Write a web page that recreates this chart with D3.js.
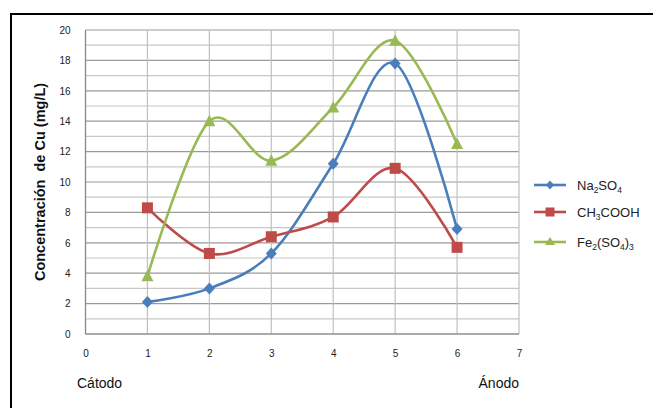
<!DOCTYPE html>
<html><head><meta charset="utf-8">
<script src="https://cdn.jsdelivr.net/npm/d3@7"></script>
<style>body{margin:0;background:#fff}svg{display:block;font-family:"Liberation Sans",Arial,sans-serif}</style>
</head><body><svg id="c" width="653" height="408"></svg>
<script>
const xValues = [1, 2, 3, 4, 5, 6];
const na2so4 = [2.1, 3.0, 5.3, 11.2, 17.8, 6.9];
const ch3cooh = [8.3, 5.3, 6.4, 7.7, 10.9, 5.7];
const fe2so43 = [3.8, 14.0, 11.4, 14.9, 19.3, 12.5];
const xTicks = [0, 1, 2, 3, 4, 5, 6, 7];
const yTicks = [0, 2, 4, 6, 8, 10, 12, 14, 16, 18, 20];
const seriesNames = ["Na2SO4", "CH3COOH", "Fe2(SO4)3"];
const colors = ["#4A7EBB", "#BE4B48", "#98B954"];

const svg = d3.select("#c");
svg.append("path").attr("d","M11,420 L11,14 L660,14").attr("fill","none").attr("stroke","#000").attr("stroke-width",2);

const L=85.5, R=519, T=30, B=334;
const x = d3.scaleLinear().domain([0,7]).range([L,R]);
const y = d3.scaleLinear().domain([0,20]).range([B,T]);

const g = svg.append("g");
d3.range(0,21).forEach(v=>{
  g.append("line").attr("x1",L).attr("x2",R).attr("y1",y(v)).attr("y2",y(v))
   .attr("stroke", v%2===0 ? "#9a9a9a" : "#c8c8c8").attr("stroke-width",1.2);
});
xTicks.forEach(v=>{
  g.append("line").attr("x1",x(v)).attr("x2",x(v)).attr("y1",T).attr("y2",B)
   .attr("stroke","#c0c0c0").attr("stroke-width",1.2);
});
g.append("line").attr("x1",L).attr("x2",L).attr("y1",T).attr("y2",B).attr("stroke","#888").attr("stroke-width",1.2);
g.append("line").attr("x1",L).attr("x2",R).attr("y1",B).attr("y2",B).attr("stroke","#888").attr("stroke-width",1.2);

const yAxis = d3.axisLeft(y).tickValues(yTicks).tickFormat(d3.format("d")).tickSize(0).tickPadding(15);
const ya = svg.append("g").attr("transform",`translate(${L},0)`).call(yAxis);
ya.select(".domain").remove();
ya.selectAll("text").attr("font-size",10).attr("fill","#222").attr("font-family","Liberation Sans, Arial");
const xAxis = d3.axisBottom(x).tickValues(xTicks).tickFormat(d3.format("d")).tickSize(0).tickPadding(16);
const xa = svg.append("g").attr("transform",`translate(0,${B})`).call(xAxis);
xa.select(".domain").remove();
xa.selectAll("text").attr("font-size",10).attr("fill","#222").attr("font-family","Liberation Sans, Arial");

svg.append("text").attr("x",77).attr("y",388).attr("font-size",14).attr("fill","#111").text("Cátodo");
svg.append("text").attr("x",519).attr("y",388).attr("text-anchor","end").attr("font-size",14).attr("fill","#111").text("Ánodo");
svg.append("text").attr("transform","translate(45,182) rotate(-90)").attr("text-anchor","middle")
  .attr("font-size",14.5).attr("font-weight","bold").attr("fill","#111").attr("xml:space","preserve")
  .text("Concentración  de Cu (mg/L)");

const allSeries = [na2so4, ch3cooh, fe2so43];
const line = d3.line().x((d,i)=>x(xValues[i])).y(d=>y(d)).curve(d3.curveCatmullRom.alpha(0));

function marker(sel, k, cx, cy){
  if(k===0){
    sel.append("path").attr("d",`M${cx},${cy-6}L${cx+5.5},${cy}L${cx},${cy+6}L${cx-5.5},${cy}Z`).attr("fill",colors[k]);
  } else if(k===1){
    sel.append("rect").attr("x",cx-5.5).attr("y",cy-5.5).attr("width",11).attr("height",11).attr("fill",colors[k]);
  } else {
    sel.append("path").attr("d",`M${cx},${cy-6.5}L${cx+6},${cy+5}L${cx-6},${cy+5}Z`).attr("fill",colors[k]);
  }
}

allSeries.forEach((s,k)=>{
  svg.append("path").datum(s).attr("d",line).attr("fill","none").attr("stroke",colors[k]).attr("stroke-width",2.6);
});
allSeries.forEach((s,k)=>{
  const gg = svg.append("g");
  s.forEach((v,i)=>marker(gg,k,x(xValues[i]),y(v)));
});

const legY = [185, 212, 242];
const legLabels = [
  [["Na",0],["2",1],["SO",0],["4",1]],
  [["CH",0],["3",1],["COOH",0]],
  [["Fe",0],["2",1],["(SO",0],["4",1],[")",0],["3",1]]
];
legY.forEach((ly,k)=>{
  svg.append("line").attr("x1",534).attr("x2",566).attr("y1",ly).attr("y2",ly).attr("stroke",colors[k]).attr("stroke-width",2.6);
  const lg = svg.append("g");
  if(k===0) lg.append("path").attr("d",`M550,${ly-4.5}L554,${ly}L550,${ly+4.5}L546,${ly}Z`).attr("fill",colors[k]);
  else if(k===1) lg.append("rect").attr("x",545.5).attr("y",ly-4.5).attr("width",9).attr("height",9).attr("fill",colors[k]);
  else lg.append("path").attr("d",`M550,${ly-5}L555,${ly+3}L545,${ly+3}Z`).attr("fill",colors[k]);
  const t = svg.append("text").attr("x",577).attr("y",ly+4.5).attr("font-size",13).attr("fill","#222");
  let prevSub=false;
  legLabels[k].forEach(([txt,sub])=>{
    t.append("tspan").attr("font-size",sub?8.5:13)
     .attr("dy", sub && !prevSub ? 3 : (!sub && prevSub ? -3 : 0)).text(txt);
    prevSub = !!sub;
  });
});
</script></body></html>
